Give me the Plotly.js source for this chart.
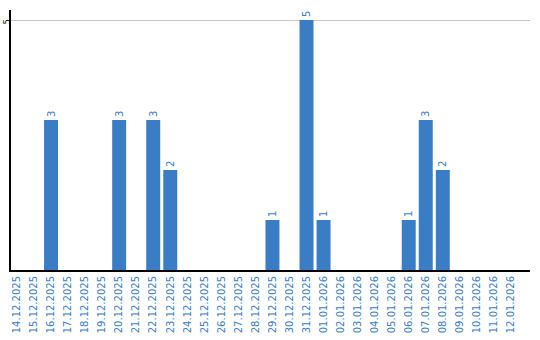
<!DOCTYPE html>
<html><head><meta charset="utf-8">
<script src="https://cdn.plot.ly/plotly-3.0.1.min.js"></script>
<style>body{margin:0;background:#fff}#c{width:540px;height:340px}</style>
</head><body><div id="c"></div>
<script>
const dates = ["14.12.2025","15.12.2025","16.12.2025","17.12.2025","18.12.2025","19.12.2025","20.12.2025","21.12.2025","22.12.2025","23.12.2025","24.12.2025","25.12.2025","26.12.2025","27.12.2025","28.12.2025","29.12.2025","30.12.2025","31.12.2025","01.01.2026","02.01.2026","03.01.2026","04.01.2026","05.01.2026","06.01.2026","07.01.2026","08.01.2026","09.01.2026","10.01.2026","11.01.2026","12.01.2026"];
const counts = [0,0,3,0,0,0,3,0,3,2,0,0,0,0,0,1,0,5,1,0,0,0,0,1,3,2,0,0,0,0];
const labels = counts.map(v => v > 0 ? String(v) : "");
const yTicks = [5];
const blue = "#3b7dc4";
Plotly.newPlot("c", [{
  type: "bar", x: dates, y: counts, text: labels,
  textposition: "outside", textangle: -90, cliponaxis: false,
  textfont: {family: "DejaVu Sans", size: 10, color: blue},
  marker: {color: blue}, width: 0.82, hoverinfo: "none"
}], {
  width: 540, height: 340,
  margin: {l: 11, r: 10, t: 10, b: 70},
  paper_bgcolor: "#fff", plot_bgcolor: "#fff",
  showlegend: false,
  xaxis: {type: "category", range: [-0.35, 30.12], tickangle: -90,
    tickfont: {family: "DejaVu Sans", size: 10, color: blue},
    showline: true, linecolor: "#000", linewidth: 2, showgrid: false, ticks: "", ticklen: 0},
  yaxis: {range: [0, 5.2], tickvals: yTicks, ticktext: yTicks.map(String), tickangle: -90,
    tickfont: {family: "DejaVu Sans", size: 8, color: "#000"}, automargin: false,
    showline: true, linecolor: "#000", linewidth: 2, showgrid: true, gridcolor: "#c8c8c8", gridwidth: 1,
    zeroline: false, ticks: "", ticklabelstandoff: -4, ticklabelshift: 3}
}, {displayModeBar: false, staticPlot: true});
</script></body></html>
